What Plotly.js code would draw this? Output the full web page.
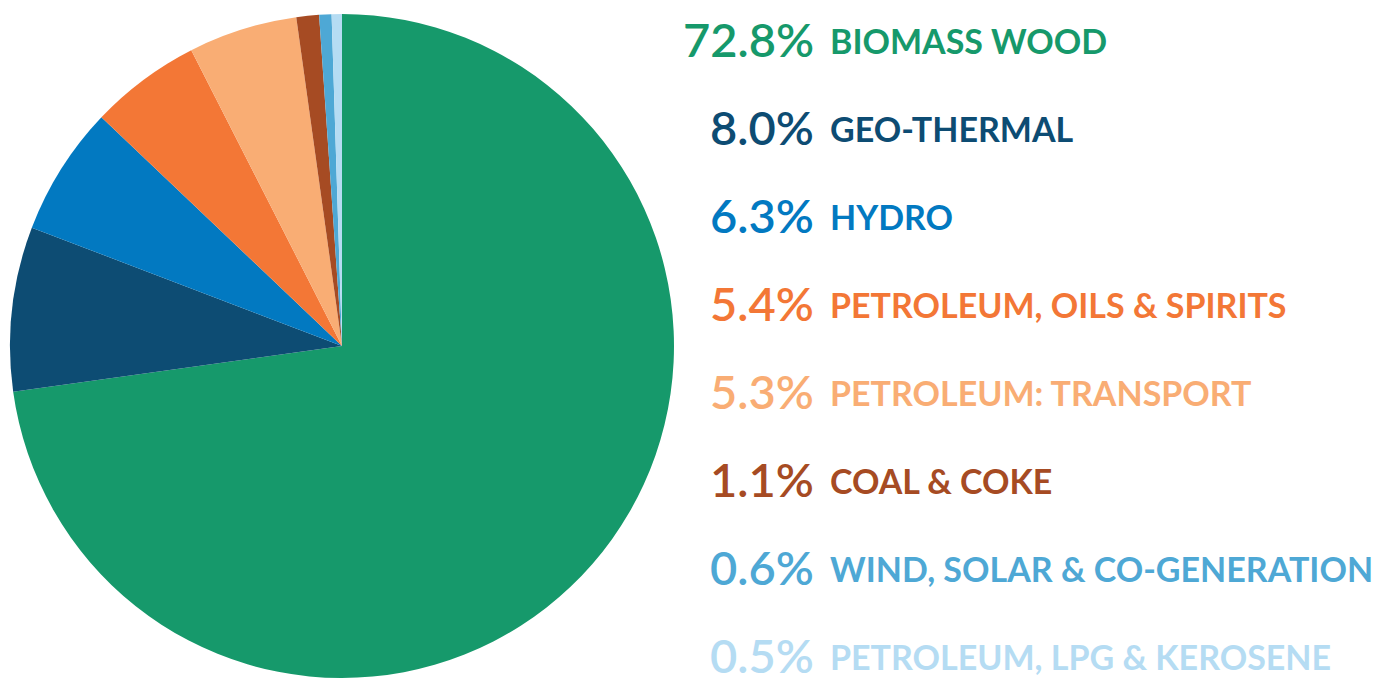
<!DOCTYPE html>
<html><head><meta charset="utf-8">
<script src="https://cdn.plot.ly/plotly-3.0.1.min.js"></script>
<style>html,body{margin:0;padding:0;background:#fff}#c{width:1383px;height:684px}</style>
</head><body><div id="c"></div>
<script>
const labels = ["BIOMASS WOOD","GEO-THERMAL","HYDRO","PETROLEUM, OILS & SPIRITS","PETROLEUM: TRANSPORT","COAL & COKE","WIND, SOLAR & CO-GENERATION","PETROLEUM, LPG & KEROSENE"];
const values = [72.8, 8.0, 6.3, 5.4, 5.3, 1.1, 0.6, 0.5];
const colors = ["#16996b","#0d4c73","#0279c1","#f37736","#f9ad74","#a64b23","#4ea8d5","#b5dcf3"];

const W = 1383, H = 684;
const annotations = [];
labels.forEach((lab, i) => {
  const yc = 39 + 88 * i;
  annotations.push({
    xref: "paper", yref: "paper", x: 816 / W, y: 1 - yc / H,
    xanchor: "right", yanchor: "middle", showarrow: false,
    text: values[i].toFixed(1) + "%",
    font: {family: "Lato", size: 47, color: colors[i], weight: 600}
  });
  annotations.push({
    xref: "paper", yref: "paper", x: 828 / W, y: 1 - (yc + 1) / H,
    xanchor: "left", yanchor: "middle", showarrow: false,
    text: lab,
    font: {family: "Lato", size: 34, color: colors[i], weight: 700}
  });
});

Plotly.newPlot("c", [{
  type: "pie", labels: labels, values: values, sort: false, direction: "clockwise", rotation: 0,
  marker: {colors: colors, line: {width: 0}}, textinfo: "none", hoverinfo: "label+percent",
  domain: {x: [10 / W, 674 / W], y: [6 / H, 670 / H]}, showlegend: false
}], {
  width: W, height: H, margin: {l: 0, r: 0, t: 0, b: 0},
  paper_bgcolor: "#fff", showlegend: false, annotations: annotations
}, {displayModeBar: false, staticPlot: true});
</script></body></html>
